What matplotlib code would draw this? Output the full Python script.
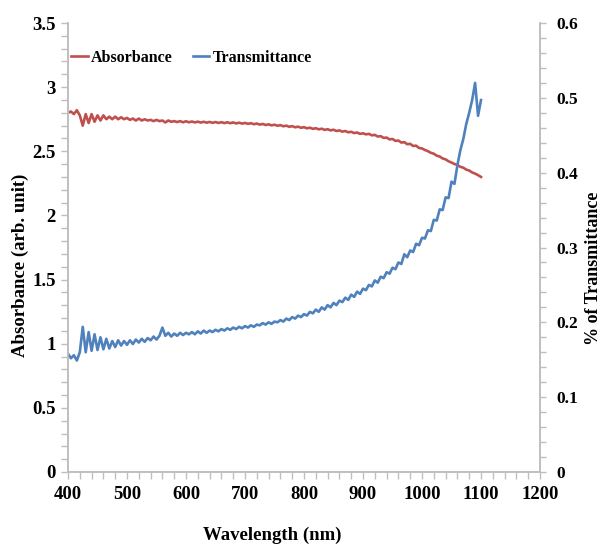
import matplotlib
matplotlib.use("Agg")
import matplotlib.pyplot as plt
from matplotlib.ticker import MultipleLocator
import numpy as np

wavelength = list(range(400, 1101, 5))

absorbance = [
    2.80, 2.81, 2.79, 2.82, 2.78, 2.70, 2.79, 2.72, 2.79, 2.73, 2.78, 2.74, 2.78, 2.75, 2.77, 2.75, 2.77, 2.75, 2.765, 2.75, 2.76,
    2.745, 2.755, 2.74, 2.755, 2.74, 2.75, 2.74, 2.745, 2.735, 2.745, 2.735, 2.74, 2.725, 2.74, 2.73, 2.735, 2.728, 2.735, 2.726, 2.734,
    2.726, 2.732, 2.725, 2.731, 2.724, 2.730, 2.723, 2.729, 2.722, 2.728, 2.721, 2.727, 2.720, 2.726, 2.719, 2.725, 2.717, 2.723, 2.716, 2.721,
    2.714, 2.719, 2.711, 2.716, 2.708, 2.713, 2.705, 2.710, 2.702, 2.707, 2.699, 2.704, 2.695, 2.700, 2.691, 2.696, 2.687, 2.692, 2.683, 2.688,
    2.679, 2.684, 2.675, 2.680, 2.671, 2.676, 2.667, 2.672, 2.663, 2.668, 2.658, 2.663, 2.653, 2.658, 2.648, 2.652, 2.642, 2.646, 2.636, 2.640,
    2.632, 2.636, 2.624, 2.628, 2.615, 2.618, 2.604, 2.607, 2.593, 2.596, 2.581, 2.584, 2.568, 2.571, 2.555, 2.558, 2.541, 2.544, 2.526, 2.522,
    2.510, 2.501, 2.488, 2.481, 2.466, 2.459, 2.444, 2.437, 2.422, 2.412, 2.401, 2.393, 2.379, 2.372, 2.357, 2.350, 2.335, 2.326, 2.314, 2.300,
]

transmittance = [
    0.158, 0.152, 0.156, 0.149, 0.160, 0.194, 0.160, 0.187, 0.162, 0.184, 0.163, 0.180, 0.164, 0.178, 0.165, 0.175, 0.167, 0.176, 0.169, 0.175, 0.170,
    0.176, 0.171, 0.177, 0.173, 0.178, 0.174, 0.179, 0.176, 0.181, 0.177, 0.182, 0.193, 0.182, 0.186, 0.181, 0.185, 0.182, 0.186, 0.183, 0.186,
    0.184, 0.187, 0.184, 0.188, 0.185, 0.189, 0.186, 0.189, 0.187, 0.190, 0.188, 0.191, 0.189, 0.192, 0.190, 0.193, 0.191, 0.194, 0.192, 0.195,
    0.193, 0.196, 0.194, 0.197, 0.196, 0.199, 0.197, 0.200, 0.198, 0.201, 0.200, 0.203, 0.201, 0.205, 0.203, 0.207, 0.205, 0.209, 0.207, 0.211,
    0.209, 0.214, 0.212, 0.217, 0.214, 0.220, 0.217, 0.223, 0.220, 0.226, 0.223, 0.229, 0.227, 0.233, 0.230, 0.237, 0.234, 0.241, 0.238, 0.245,
    0.243, 0.250, 0.248, 0.256, 0.253, 0.261, 0.259, 0.267, 0.265, 0.273, 0.271, 0.280, 0.278, 0.291, 0.287, 0.296, 0.294, 0.305, 0.303, 0.313,
    0.312, 0.323, 0.322, 0.337, 0.336, 0.351, 0.350, 0.367, 0.366, 0.388, 0.385, 0.410, 0.430, 0.445, 0.465, 0.480, 0.497, 0.520, 0.476, 0.497,
]

x_ticks = [400, 500, 600, 700, 800, 900, 1000, 1100, 1200]
left_ticks = [0, 0.5, 1, 1.5, 2, 2.5, 3, 3.5]
right_ticks = [0, 0.1, 0.2, 0.3, 0.4, 0.5, 0.6]

RED = "#C0504D"
BLUE = "#4F81BD"
GRID = "#BFBFBF"
FONT = "Liberation Serif"

plt.rcParams["font.family"] = [FONT, "DejaVu Serif"]
plt.rcParams["font.weight"] = "bold"

fig = plt.figure(figsize=(6.02, 5.44), dpi=100)
ax = fig.add_axes([68 / 602, 72 / 544, 472 / 602, 449 / 544])
ax2 = ax.twinx()

l1, = ax.plot(wavelength, absorbance, color=RED, lw=1.9, label="Absorbance")
l2, = ax2.plot(wavelength, transmittance, color=BLUE, lw=1.9, label="Transmittance")

ax.set_xlim(400, 1200)
ax.set_ylim(0, 3.5)
ax2.set_ylim(0, 0.6)
ax.set_xticks(x_ticks)
ax.set_yticks(left_ticks)
ax.set_yticklabels(["0", "0.5", "1", "1.5", "2", "2.5", "3", "3.5"])
ax2.set_yticks(right_ticks)
ax2.set_yticklabels(["0", "0.1", "0.2", "0.3", "0.4", "0.5", "0.6"])
ax.xaxis.set_minor_locator(MultipleLocator(20))
ax.yaxis.set_minor_locator(MultipleLocator(0.1))
ax2.yaxis.set_minor_locator(MultipleLocator(0.02))

for a in (ax, ax2):
    for s in a.spines.values():
        s.set_color(GRID)
        s.set_linewidth(1.2)
    a.spines["top"].set_visible(False)

ax.tick_params(axis="both", which="both", direction="out", color=GRID, length=5, width=1, labelsize=13.5)
ax.tick_params(axis="x", pad=5)
ax.tick_params(axis="y", pad=4)
ax2.tick_params(axis="y", which="both", direction="out", color=GRID, length=4, width=1, labelsize=12.5, pad=8)
for lab in ax.get_xticklabels() + ax.get_yticklabels() + ax2.get_yticklabels():
    lab.set_fontweight("bold")

fig.text(20 / 602, 1 - 265 / 544, "Absorbance (arb. unit)", rotation=90, ha="center", va="center",
         fontsize=13.5, fontweight="bold")
fig.text(593 / 602, 1 - 268 / 544, "% of Transmittance", rotation=90, ha="center", va="center",
         fontsize=13, fontweight="bold")
fig.text(272 / 602, 1 - 535 / 544, "Wavelength (nm)", ha="center", va="center",
         fontsize=13.5, fontweight="bold")

leg = ax.legend(handles=[l1, l2], loc="center left", bbox_to_anchor=(71 / 602, 1 - 58 / 544),
                bbox_transform=fig.transFigure, ncol=2, frameon=False, handlelength=1.05,
                handletextpad=0.2, columnspacing=1.25, borderaxespad=0, borderpad=0,
                prop={"family": FONT, "weight": "bold", "size": 11.5})

fig.savefig("out.png", dpi=100)
